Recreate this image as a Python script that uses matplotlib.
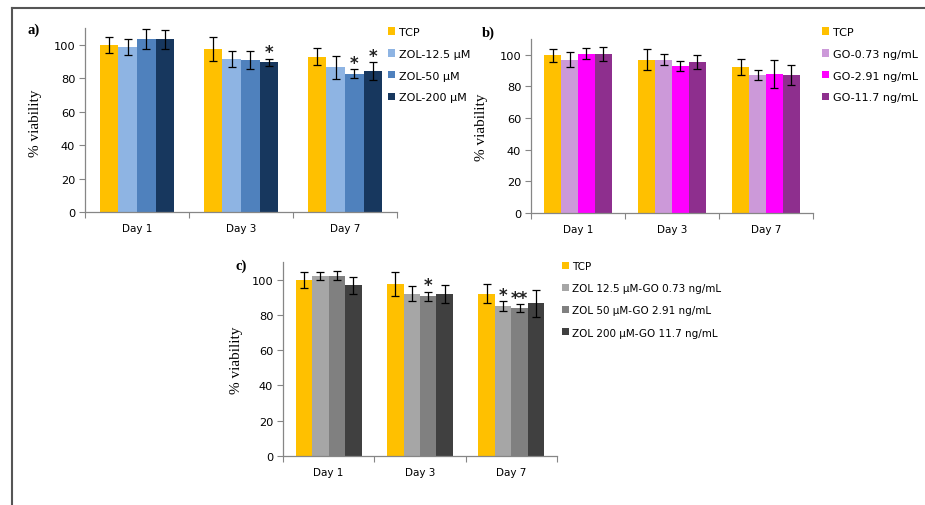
import matplotlib
matplotlib.use("Agg")
import matplotlib.pyplot as plt
from matplotlib.lines import Line2D
import numpy as np

days = ["Day 1", "Day 3", "Day 7"]

# Panel a
a_labels = ["TCP", "ZOL-12.5 µM", "ZOL-50 µM", "ZOL-200 µM"]
a_vals = [[100.0, 97.4, 92.8],
          [98.6, 91.3, 86.5],
          [103.5, 90.7, 82.7],
          [103.4, 89.5, 84.2]]
a_errs = [[4.7, 7.0, 5.0],
          [4.8, 4.8, 6.8],
          [6.2, 5.5, 2.7],
          [5.7, 2.0, 5.2]]
a_stars = [(1, 3, "*"), (2, 2, "*"), (2, 3, "*")]
a_colors = ["#FFC000", "#8EB4E3", "#4F81BD", "#17375E"]

# Panel b
b_labels = ["TCP", "GO-0.73 ng/mL", "GO-2.91 ng/mL", "GO-11.7 ng/mL"]
b_vals = [[99.6, 96.9, 92.5],
          [97.0, 96.9, 87.2],
          [100.8, 92.9, 87.8],
          [100.8, 95.6, 87.0]]
b_errs = [[4.1, 6.8, 5.0],
          [5.0, 3.6, 3.2],
          [3.7, 3.0, 8.7],
          [4.4, 4.5, 6.3]]
b_stars = []
b_colors = ["#FFC000", "#CC99D9", "#FF00FF", "#8E2F8E"]

# Panel c
c_labels = ["TCP", "ZOL 12.5 µM-GO 0.73 ng/mL", "ZOL 50 µM-GO 2.91 ng/mL",
            "ZOL 200 µM-GO 11.7 ng/mL"]
c_vals = [[100.0, 97.6, 92.1],
          [102.3, 92.1, 85.0],
          [102.3, 90.6, 83.8],
          [96.8, 91.7, 86.5]]
c_errs = [[4.5, 6.9, 5.4],
          [2.3, 4.4, 2.7],
          [2.5, 2.5, 2.2],
          [4.9, 5.0, 7.7]]
c_stars = [(1, 2, "*"), (2, 1, "*"), (2, 2, "**")]
c_colors = ["#FFC000", "#A6A6A6", "#808080", "#404040"]

yticks = [0, 20, 40, 60, 80, 100]

W, H = 925, 506
fig = plt.figure(figsize=(W / 100, H / 100), dpi=100)

SPINE = "#868686"
BW = 0.18


def px_axes(left, right, top, bottom):
    return fig.add_axes([left / W, 1 - bottom / H, (right - left) / W, (bottom - top) / H])


def panel(ax, vals, errs, colors, labels, stars, leg_xy, leg_fs, label_spacing):
    x = np.arange(len(days))
    n = len(vals)
    for i in range(n):
        off = (i - (n - 1) / 2) * BW
        ax.bar(x + off, vals[i], BW, color=colors[i], yerr=errs[i],
               error_kw=dict(ecolor="black", elinewidth=0.9, capsize=3, capthick=0.9),
               zorder=2, label=labels[i])
    for d, s, t in stars:
        off = (s - (n - 1) / 2) * BW
        ax.text(d + off, vals[s][d] + errs[s][d] - 1.5, t, ha="center", va="bottom",
                fontsize=12, fontweight="bold", color="#222222")
    ax.set_xlim(-0.5, len(days) - 0.5)
    ax.set_ylim(0, 110)
    ax.set_yticks(yticks)
    ax.set_xticks(x)
    ax.set_xticklabels(days)
    ax.set_xticks(np.arange(len(days) + 1) - 0.5, minor=True)
    ax.tick_params(axis="x", which="major", length=0, pad=8, labelsize=7.5)
    ax.tick_params(axis="x", which="minor", length=4, color=SPINE, width=0.8)
    ax.tick_params(axis="y", length=4, color=SPINE, width=0.8, labelsize=8.2, pad=3)
    for sp in ["top", "right"]:
        ax.spines[sp].set_visible(False)
    for sp in ["left", "bottom"]:
        ax.spines[sp].set_color(SPINE)
        ax.spines[sp].set_linewidth(0.9)
    ax.set_ylabel("% viability", fontsize=11, family="Liberation Serif")
    lx, ly = leg_xy
    ax.legend(loc="upper left", bbox_to_anchor=(lx / W, 1 - ly / H),
              bbox_transform=fig.transFigure, frameon=False, fontsize=leg_fs,
              handlelength=0.65, handleheight=0.65, handletextpad=0.35,
              labelspacing=label_spacing, borderaxespad=0, borderpad=0)
    return ax


ax_a = px_axes(85, 397, 29, 213)
ax_b = px_axes(531, 813, 40, 214)
ax_c = px_axes(283, 557, 263, 457)

panel(ax_a, a_vals, a_errs, a_colors, a_labels, a_stars, (388, 28), 8.0, 1.06)
panel(ax_b, b_vals, b_errs, b_colors, b_labels, b_stars, (822, 28), 8.0, 1.06)
panel(ax_c, c_vals, c_errs, c_colors, c_labels, c_stars, (562, 262), 7.5, 1.17)

# y-label positions
for ax, xpix, ypix in [(ax_a, 42, 123), (ax_b, 488, 127), (ax_c, 243, 360)]:
    ax.yaxis.set_label_coords(xpix / W, 1 - ypix / H, transform=fig.transFigure)

# panel tags
for t, xpix, ypix in [("a)", 27, 30), ("b)", 482, 33), ("c)", 236, 266)]:
    fig.text(xpix / W, 1 - ypix / H, t, fontsize=10.5, fontweight="bold",
             family="Liberation Serif", ha="left", va="center")

# outer frame (top and left lines)
fig.add_artist(Line2D([12 / W, 12 / W], [0, 1 - 9 / H], color="#555555", lw=1.5,
                      transform=fig.transFigure))
fig.add_artist(Line2D([12 / W, 1], [1 - 9 / H, 1 - 9 / H], color="#555555", lw=1.5,
                      transform=fig.transFigure))

fig.savefig("out.png", dpi=100)
